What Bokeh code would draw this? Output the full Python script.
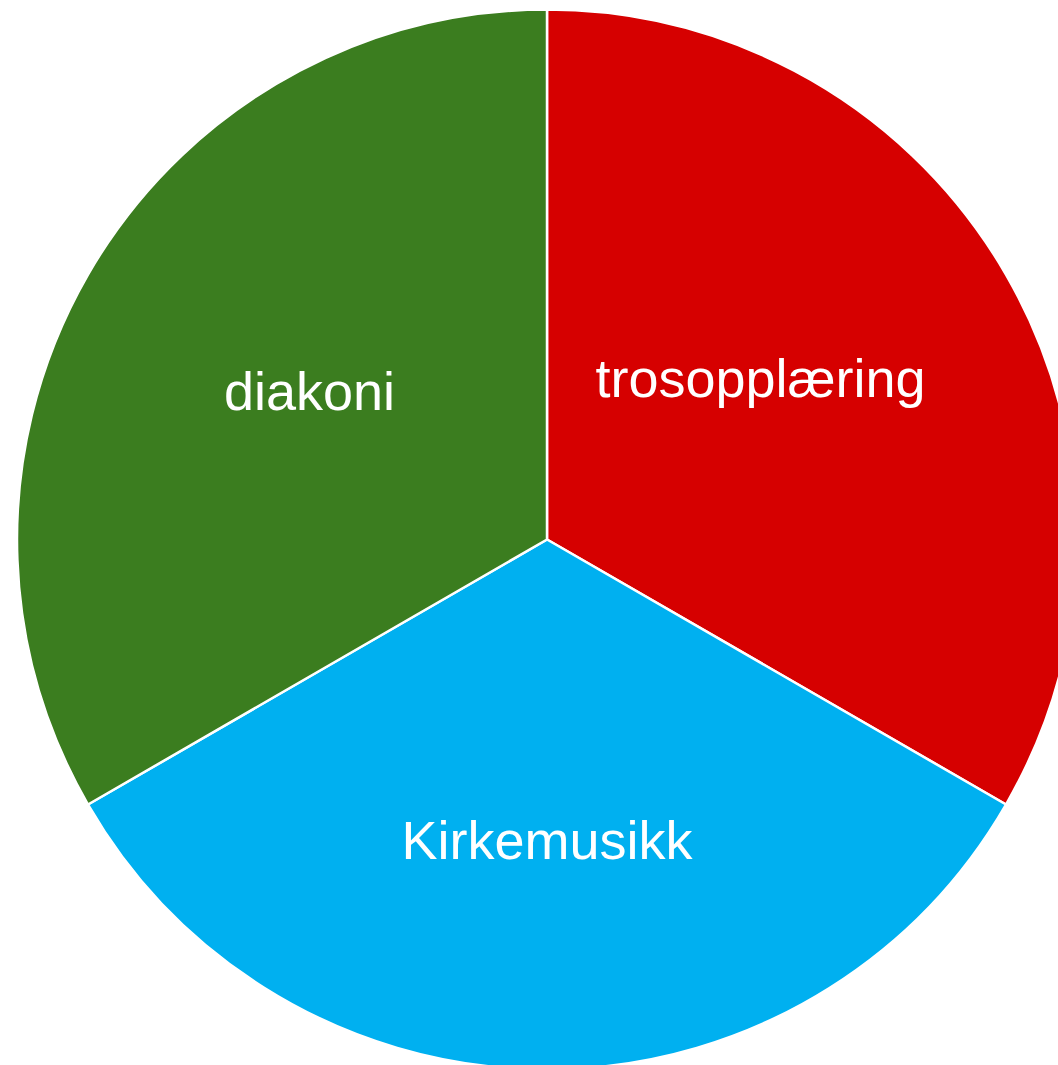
import math
from bokeh.plotting import figure
from bokeh.models import Range1d, ColumnDataSource
from bokeh.core.properties import value
from bokeh.embed import file_html
from bokeh.resources import INLINE

# Data
categories = ["trosopplæring", "Kirkemusikk", "diakoni"]
values = [1, 1, 1]
colors = ["#D60000", "#00B0F0", "#3B7D1F"]

# Layout (image pixel space, y measured upward from page bottom)
W, H = 1058, 1065
cx, cy = 546.5, H - 539
R = 530
label_shift = [(-16, 29), (0, -35), (-8, 16)]  # fine offsets from half-radius point

total = sum(values)
start = math.pi / 2
starts, ends, lx, ly = [], [], [], []
for v, (dx, dy) in zip(values, label_shift):
    sweep = 2 * math.pi * v / total
    end = start - sweep
    starts.append(end)
    ends.append(start)
    mid = (start + end) / 2
    lx.append(cx + 0.5 * R * math.cos(mid) + dx)
    ly.append(cy + 0.5 * R * math.sin(mid) + dy)
    start = end

src = ColumnDataSource(dict(start=starts, end=ends, color=colors, name=categories, lx=lx, ly=ly))

p = figure(width=W, height=H, output_backend="svg", toolbar_location=None,
           x_range=Range1d(0, W), y_range=Range1d(0, H), min_border=0)
p.axis.visible = False
p.grid.visible = False
p.outline_line_color = None
p.background_fill_color = "white"

p.wedge(x=cx, y=cy, radius=R, start_angle="start", end_angle="end", direction="anticlock",
        fill_color="color", line_color="white", line_width=2.5, source=src)
p.text(x="lx", y="ly", text="name", source=src, text_color="white",
       text_font=value("Liberation Sans"), text_font_size="54px",
       text_align="center", text_baseline="alphabetic")

open("out.html", "w").write(file_html(p, INLINE))
